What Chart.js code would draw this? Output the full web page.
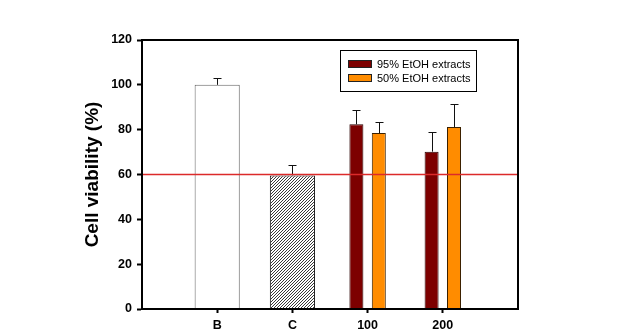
<!DOCTYPE html>
<html>
<head>
<meta charset="utf-8">
<script src="https://cdn.jsdelivr.net/npm/chart.js@4/dist/chart.umd.min.js"></script>
<style>
html,body{margin:0;padding:0;background:#fff;}
#wrap{width:638px;height:335px;position:relative;}
</style>
</head>
<body>
<div id="wrap"><canvas id="c" width="638" height="335"></canvas></div>
<script>
// ---- data ----
const categories = ['B', 'C', '100', '200'];
const controlLabels = ['B', 'C'];
const controlValues = [100, 59.6];
const controlErrors = [3, 4.5];
const ext95Values = [82.4, 70.2];   // at 100, 200
const ext95Errors = [6.2, 8.6];
const ext50Values = [78.5, 81.2];
const ext50Errors = [5.0, 10.4];
const doseLabels = ['100', '200'];
const yTicks = [0, 20, 40, 60, 80, 100, 120];
const thresholdValue = 60;
const seriesNames = ['95% EtOH extracts', '50% EtOH extracts'];
const yTitle = 'Cell viability (%)';

// ---- build table ----
const labels = [''].concat(categories).concat(['']);
function place(keys, vals) {
  return labels.map(l => { const i = keys.indexOf(l); return (i >= 0 && l !== '') ? vals[i] : null; });
}
const controlData = place(controlLabels, controlValues);
const controlErr = place(controlLabels, controlErrors);
const e95Data = place(doseLabels, ext95Values);
const e95Err = place(doseLabels, ext95Errors);
const e50Data = place(doseLabels, ext50Values);
const e50Err = place(doseLabels, ext50Errors);

// hatch pattern
const pc = document.createElement('canvas');
pc.width = 3; pc.height = 3;
const px = pc.getContext('2d');
px.fillStyle = '#fff'; px.fillRect(0, 0, 3, 3);
px.strokeStyle = '#222'; px.lineWidth = 0.9;
px.beginPath();
px.moveTo(-1, 4); px.lineTo(4, -1);
px.moveTo(-1, 1); px.lineTo(1, -1);
px.moveTo(2, 4); px.lineTo(4, 2);
px.stroke();
const hatch = document.getElementById('c').getContext('2d').createPattern(pc, 'repeat');

const FONT = '"Liberation Sans", Arial, sans-serif';

const extrasPlugin = {
  id: 'extras',
  afterDatasetsDraw(chart) {
    const ctx = chart.ctx;
    const ys = chart.scales.y;
    const errs = [controlErr, e95Err, e50Err];
    ctx.save();
    // error bars (upper only)
    ctx.strokeStyle = '#111'; ctx.lineWidth = 1;
    chart.data.datasets.forEach((ds, di) => {
      const meta = chart.getDatasetMeta(di);
      meta.data.forEach((bar, i) => {
        const v = ds.data[i], e = errs[di][i];
        if (v == null || e == null) return;
        const x = Math.round(bar.x) + 0.5;
        const yTop = ys.getPixelForValue(v);
        const yErr = Math.round(ys.getPixelForValue(v + e)) + 0.5;
        ctx.beginPath();
        ctx.moveTo(x, yTop); ctx.lineTo(x, yErr);
        ctx.moveTo(x - 4, yErr); ctx.lineTo(x + 4, yErr);
        ctx.stroke();
      });
    });
    // threshold line
    const a = chart.chartArea;
    const ty = ys.getPixelForValue(thresholdValue);
    ctx.strokeStyle = '#dc2a2a'; ctx.lineWidth = 1.6;
    ctx.beginPath(); ctx.moveTo(a.left, ty); ctx.lineTo(a.right, ty); ctx.stroke();
    // frame
    ctx.strokeStyle = '#000'; ctx.lineWidth = 2;
    ctx.strokeRect(a.left, a.top, a.right - a.left, a.bottom - a.top);
    // legend
    const lx = a.left + 198, ly = a.top + 10, lw = 136, lh = 41;
    ctx.fillStyle = '#fff'; ctx.fillRect(lx, ly, lw, lh);
    ctx.strokeStyle = '#000'; ctx.lineWidth = 1;
    ctx.strokeRect(lx + 0.5, ly + 0.5, lw, lh);
    ctx.font = '11px ' + FONT;
    ctx.textBaseline = 'middle';
    [1, 2].forEach((di, k) => {
      const ds = chart.data.datasets[di];
      const sy = ly + 10 + k * 14;
      ctx.fillStyle = ds.backgroundColor;
      ctx.fillRect(lx + 8, sy, 24, 8);
      ctx.strokeStyle = '#222';
      ctx.strokeRect(lx + 8.5, sy + 0.5, 23, 7);
      ctx.fillStyle = '#000';
      ctx.fillText(ds.label, lx + 37, sy + 4.5);
    });
    ctx.restore();
  }
};

new Chart(document.getElementById('c'), {
  type: 'bar',
  data: {
    labels: labels,
    datasets: [
      {
        label: 'Control',
        data: controlData,
        backgroundColor: ['#fff', '#fff', hatch, '#fff', '#fff', '#fff'],
        borderColor: ['#666', '#666', '#111', '#666', '#666', '#666'],
        borderWidth: 1,
        categoryPercentage: 0.6,
        barPercentage: 1.0,
        skipNull: true
      },
      {
        label: seriesNames[0],
        data: e95Data,
        backgroundColor: '#7d0000',
        borderColor: '#2a0000',
        borderWidth: 1,
        categoryPercentage: 0.596,
        barPercentage: 0.625,
        skipNull: true
      },
      {
        label: seriesNames[1],
        data: e50Data,
        backgroundColor: '#ff8c00',
        borderColor: '#3a2000',
        borderWidth: 1,
        categoryPercentage: 0.596,
        barPercentage: 0.625,
        skipNull: true
      }
    ]
  },
  options: {
    responsive: false,
    animation: false,
    events: [],
    layout: { padding: { left: 80, right: 120, top: 40, bottom: 0 } },
    plugins: { legend: { display: false }, tooltip: { enabled: false } },
    scales: {
      x: {
        offset: false,
        grid: {
          offset: false,
          drawOnChartArea: false, drawTicks: true, tickLength: 4, tickWidth: 2,
          tickColor: (c) => (c.index === 0 || c.index === labels.length - 1) ? 'rgba(0,0,0,0)' : '#000'
        },
        border: { display: true, color: '#000', width: 2 },
        ticks: { autoSkip: false, maxRotation: 0, color: '#000', padding: 5,
                 font: { family: FONT, size: 12.5, weight: 'bold' } },
        afterFit: (s) => { s.height = 26; }
      },
      y: {
        min: 0, max: 120,
        afterBuildTicks: (s) => { s.ticks = yTicks.map(v => ({ value: v })); },
        grid: { drawOnChartArea: false, drawTicks: true, tickLength: 5, tickWidth: 2, tickColor: '#000' },
        border: { display: true, color: '#000', width: 2 },
        ticks: { color: '#000', padding: 5, font: { family: FONT, size: 12.5, weight: 'bold' } },
        title: { display: true, text: yTitle, color: '#000', padding: { top: 1, bottom: 0 },
                 font: { family: FONT, size: 19, weight: 'bold' } },
        afterFit: (s) => { s.width = 62; }
      }
    }
  },
  plugins: [extrasPlugin]
});
</script>
</body>
</html>
